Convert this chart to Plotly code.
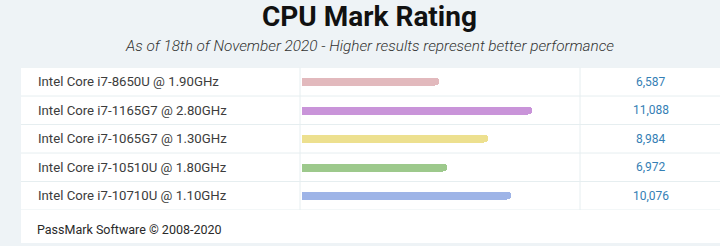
import plotly.graph_objects as go

cpus = [
    "Intel Core i7-8650U @ 1.90GHz",
    "Intel Core i7-1165G7 @ 2.80GHz",
    "Intel Core i7-1065G7 @ 1.30GHz",
    "Intel Core i7-10510U @ 1.80GHz",
    "Intel Core i7-10710U @ 1.10GHz",
]
scores = [6587, 11088, 8984, 6972, 10076]
bar_colors = ["#e2b9bd", "#c994d9", "#ede08f", "#9dc98c", "#9eb4e7"]

W, H = 720, 246
BG = "#eef3f6"
GRID = "#e6eef0"

def px_x(p):
    return p / W

def px_y(p):
    return 1 - p / H

row_top, row_h = 67.5, 28.5
n = len(cpus)
row_bottom = row_top + n * row_h
bar_x0, bar_ref_end, col2, col3 = 302, 532, 580, 720
xmax = max(scores) * (col2 - bar_x0) / (bar_ref_end - bar_x0)

fig = go.Figure()
fig.add_trace(go.Bar(
    y=list(range(n)), x=scores, orientation="h",
    marker=dict(color=bar_colors, cornerradius="50%", line=dict(width=0)),
    width=8 / row_h, hoverinfo="skip",
))

shapes = []
# white table
shapes.append(dict(type="rect", xref="paper", yref="paper",
                   x0=px_x(21), x1=1, y0=px_y(243), y1=px_y(row_top),
                   fillcolor="white", line=dict(width=0), layer="below"))
# row lines
for i in range(n + 1):
    yy = i - 0.5
    shapes.append(dict(type="line", xref="paper", yref="y", x0=px_x(21), x1=1,
                       y0=yy, y1=yy, line=dict(color=GRID, width=1), layer="below"))
# column dividers
for cx in (300, col2):
    shapes.append(dict(type="line", xref="paper", yref="y", x0=px_x(cx), x1=px_x(cx),
                       y0=-0.5, y1=n - 0.5, line=dict(color=GRID, width=1), layer="below"))

annotations = []
for i, (c, s) in enumerate(zip(cpus, scores)):
    annotations.append(dict(xref="paper", yref="y", x=px_x(36), y=i, text=c,
                            showarrow=False, xanchor="left", yanchor="middle",
                            font=dict(family="Roboto", size=13.2, color="#3c3c3c")))
    annotations.append(dict(xref="paper", yref="y", x=px_x(651), y=i, text=f"{s:,}",
                            showarrow=False, xanchor="center", yanchor="middle",
                            font=dict(family="Roboto", size=12, color="#3580b5")))
annotations.append(dict(xref="paper", yref="paper", x=px_x(35), y=px_y(229),
                        text="PassMark Software © 2008-2020", showarrow=False,
                        xanchor="left", yanchor="middle",
                        font=dict(family="Roboto", size=12.5, color="#2a2a2a")))
annotations.append(dict(xref="paper", yref="paper", x=px_x(370), y=px_y(16),
                        text="<b>CPU Mark Rating</b>", showarrow=False,
                        xanchor="center", yanchor="middle",
                        font=dict(family="Roboto", size=28, color="#111111")))
annotations.append(dict(xref="paper", yref="paper", x=px_x(370), y=px_y(46),
                        text="<i>As of 18th of November 2020 - Higher results represent better performance</i>",
                        showarrow=False, xanchor="center", yanchor="middle",
                        font=dict(family="Roboto", size=15.3, color="#333333", weight=300)))

fig.update_layout(
    width=W, height=H, margin=dict(l=0, r=0, t=0, b=0),
    paper_bgcolor=BG, plot_bgcolor="rgba(0,0,0,0)",
    showlegend=False,
    xaxis=dict(domain=[px_x(bar_x0), px_x(col2)], range=[0, xmax],
               visible=False, fixedrange=True),
    yaxis=dict(domain=[px_y(row_bottom), px_y(row_top)], range=[n - 0.5, -0.5],
               visible=False, fixedrange=True),
    shapes=shapes, annotations=annotations,
    bargap=0,
)
fig.write_html("out.html", config={"displayModeBar": False})
